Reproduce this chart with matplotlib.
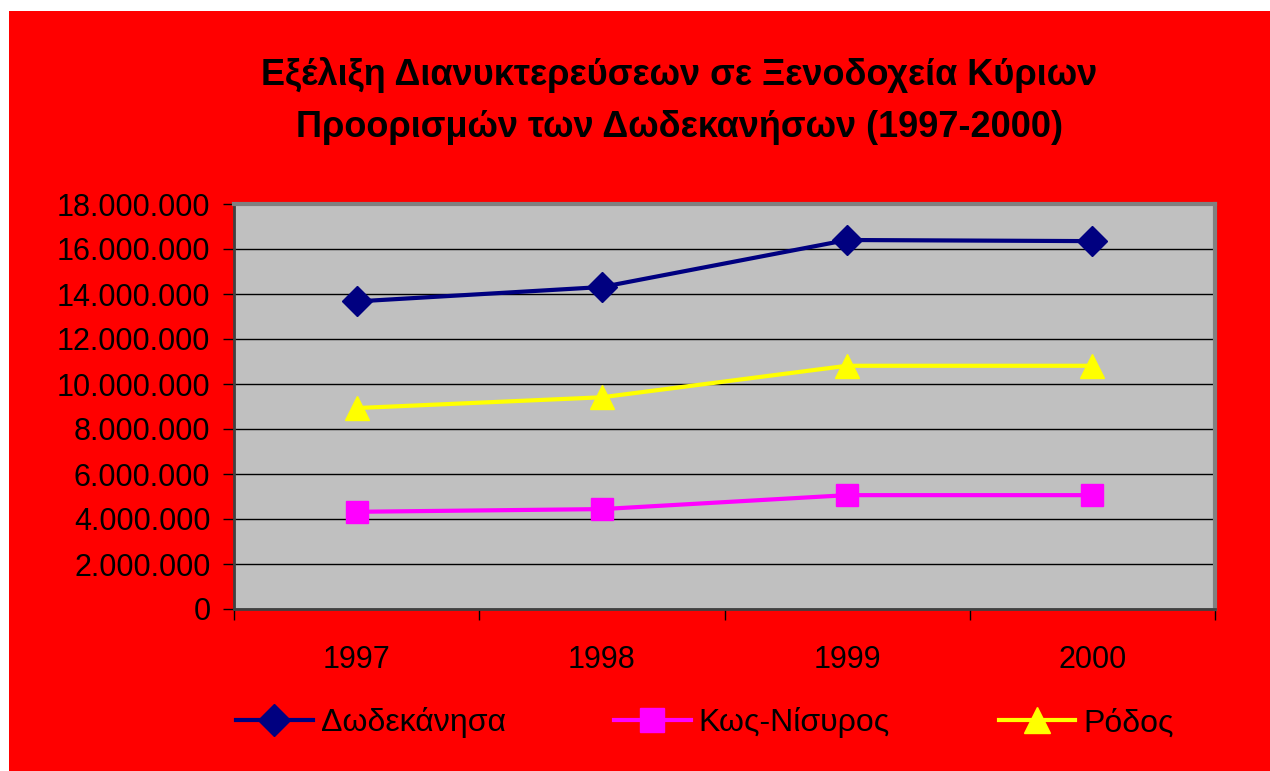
import matplotlib
matplotlib.use('Agg')
import matplotlib.pyplot as plt
from matplotlib.patches import Rectangle
from matplotlib.ticker import FuncFormatter, FixedLocator

plt.rcParams['font.family'] = ['Liberation Sans', 'DejaVu Sans']

# data
years = ['1997', '1998', '1999', '2000']
dodecanese = [13670000, 14310000, 16400000, 16350000]
kos_nisyros = [4320000, 4440000, 5060000, 5060000]
rodos = [8930000, 9410000, 10810000, 10810000]
series_names = ['Δωδεκάνησα', 'Κως-Νίσυρος', 'Ρόδος']
title = 'Εξέλιξη Διανυκτερεύσεων σε Ξενοδοχεία Κύριων\nΠροορισμών των Δωδεκανήσων (1997-2000)'

W, H = 1270, 771
fig = plt.figure(figsize=(W / 100, H / 100), dpi=100, facecolor='white')

# red chart background with a thin white margin at top/left
fig.patches.append(Rectangle((9 / W, 0), 1, 1 - 11 / H, transform=fig.transFigure,
                             facecolor='#FF0000', edgecolor='none', zorder=-5))

ax = fig.add_axes([234 / W, 1 - 609 / H, (1215 - 234) / W, (609 - 204) / H])
ax.set_facecolor('#C0C0C0')

x = list(range(len(years)))
ax.plot(x, dodecanese, color='#000080', lw=3, marker='D', ms=15, mec='#000080', zorder=4,
        label=series_names[0])
ax.plot(x, kos_nisyros, color='#FF00FF', lw=3, marker='s', ms=16, mec='#FF00FF', zorder=4,
        label=series_names[1])
ax.plot(x, rodos, color='#FFFF00', lw=3, marker='^', ms=17, mec='#FFFF00', zorder=4,
        label=series_names[2])

ax.set_xlim(-0.5, len(years) - 0.5)
ax.set_ylim(0, 18000000)
ax.yaxis.set_major_locator(FixedLocator([i * 2000000 for i in range(10)]))
ax.yaxis.set_major_formatter(FuncFormatter(lambda v, p: '{:,.0f}'.format(v).replace(',', '.')))
ax.grid(axis='y', color='black', lw=1)
ax.set_axisbelow(True)

ax.set_xticks([i - 0.5 for i in range(len(years) + 1)])
ax.set_xticklabels([])
ax.set_xticks(x, minor=True)
ax.set_xticklabels(years, minor=True)
ax.tick_params(axis='x', which='major', direction='out', length=8, width=1, color='black')
ax.tick_params(axis='x', which='minor', length=0, pad=26, labelsize=22)
ax.tick_params(axis='y', direction='out', length=8, width=1, color='black', labelsize=22, pad=9)

for s in ['top', 'right']:
    ax.spines[s].set_color('#808080')
    ax.spines[s].set_linewidth(3)
ax.spines['left'].set_color('#404040')
ax.spines['left'].set_linewidth(2)
ax.spines['bottom'].set_color('#404040')
ax.spines['bottom'].set_linewidth(2)

fig.text(0.535, 1 - 101 / H, title, ha='center', va='center', fontsize=26,
         fontweight='bold', linespacing=1.6)

leg = fig.legend(loc='center', bbox_to_anchor=(0.555, 1 - 723 / H), ncol=3, frameon=False,
                 fontsize=23, handlelength=2.4, handletextpad=0.25, columnspacing=3.4,
                 markerscale=1.1)

fig.savefig('out.png', dpi=100, facecolor=fig.get_facecolor())
